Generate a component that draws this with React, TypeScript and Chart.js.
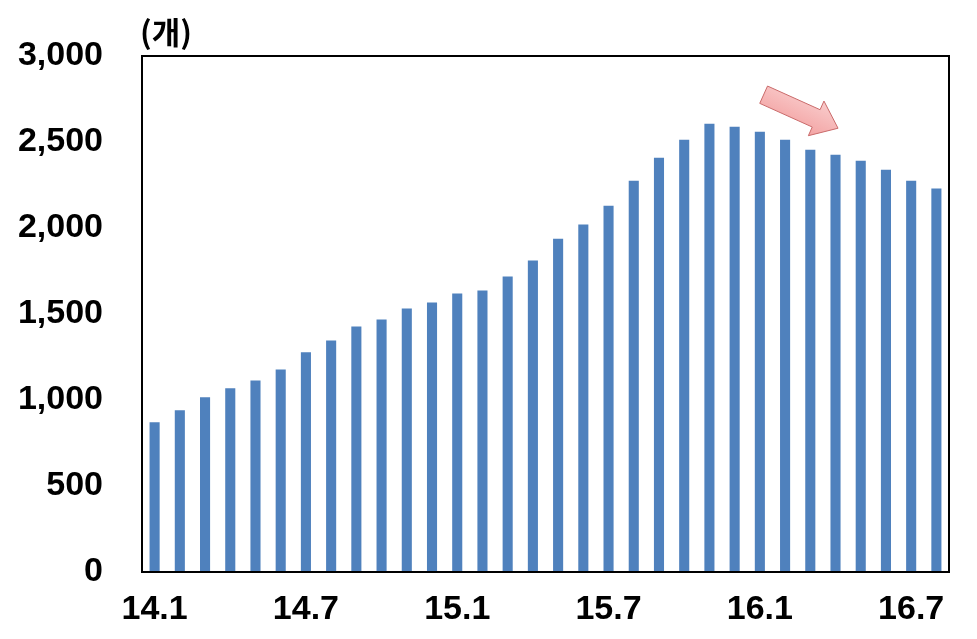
import React, { useEffect, useRef } from "react";
import { Chart, registerables } from "chart.js";

Chart.register(...registerables);

const CATEGORIES: string[] = [
  "14.1", "14.2", "14.3", "14.4", "14.5", "14.6", "14.7", "14.8", "14.9", "14.10", "14.11", "14.12",
  "15.1", "15.2", "15.3", "15.4", "15.5", "15.6", "15.7", "15.8", "15.9", "15.10", "15.11", "15.12",
  "16.1", "16.2", "16.3", "16.4", "16.5", "16.6", "16.7", "16.8",
];

const COUNTS: number[] = [
  870, 940, 1016, 1068, 1114, 1178, 1277, 1346, 1428, 1468, 1532, 1567,
  1619, 1637, 1718, 1811, 1938, 2020, 2130, 2275, 2409, 2513, 2606, 2589,
  2560, 2513, 2455, 2426, 2391, 2339, 2275, 2229,
];

const SHOWN_X_TICKS: string[] = ["14.1", "14.7", "15.1", "15.7", "16.1", "16.7"];

const UNIT_LABEL = "(개)";

// Decorative arrow anchored on the chart scales (category index, value)
const ARROW_FROM = { index: 24.15, value: 2775 };
const ARROW_TO = { index: 27.1, value: 2580 };

const FONT_FAMILY = "'Liberation Sans', Arial, 'DejaVu Sans', sans-serif";

const framePlugin = {
  id: "frameAndDecor",
  afterDatasetsDraw(chart: any) {
    const { ctx, chartArea, scales } = chart;
    const x = scales.x;
    const y = scales.y;
    ctx.save();
    // frame
    ctx.strokeStyle = "#000";
    ctx.lineWidth = 2;
    ctx.strokeRect(chartArea.left, chartArea.top, chartArea.right - chartArea.left, chartArea.bottom - chartArea.top);

    // unit label
    ctx.fillStyle = "#000";
    ctx.font = "bold 31px 'Noto Sans CJK KR', sans-serif";
    ctx.textAlign = "left";
    ctx.textBaseline = "middle";
    ctx.fillText(UNIT_LABEL, chartArea.left - 2, 32);

    // arrow
    const x0 = x.getPixelForValue(ARROW_FROM.index);
    const y0 = y.getPixelForValue(ARROW_FROM.value);
    const x1 = x.getPixelForValue(ARROW_TO.index);
    const y1 = y.getPixelForValue(ARROW_TO.value);
    const dx = x1 - x0;
    const dy = y1 - y0;
    const len = Math.hypot(dx, dy);
    const ux = dx / len;
    const uy = dy / len;
    const nx = -uy;
    const ny = ux;
    const bodyHalf = 9.5;
    const headHalf = 19;
    const headLen = 24;
    const bx = x1 - ux * headLen;
    const by = y1 - uy * headLen;
    const pts: [number, number][] = [
      [x0 + nx * bodyHalf, y0 + ny * bodyHalf],
      [bx + nx * bodyHalf, by + ny * bodyHalf],
      [bx + nx * headHalf, by + ny * headHalf],
      [x1, y1],
      [bx - nx * headHalf, by - ny * headHalf],
      [bx - nx * bodyHalf, by - ny * bodyHalf],
      [x0 - nx * bodyHalf, y0 - ny * bodyHalf],
    ];
    ctx.beginPath();
    ctx.moveTo(pts[0][0], pts[0][1]);
    for (let i = 1; i < pts.length; i++) ctx.lineTo(pts[i][0], pts[i][1]);
    ctx.closePath();
    const grad = ctx.createLinearGradient(x0 - nx * headHalf, y0 - ny * headHalf, x0 + nx * headHalf, y0 + ny * headHalf);
    grad.addColorStop(0, "#f9cccc");
    grad.addColorStop(1, "#f3a3a3");
    ctx.fillStyle = grad;
    ctx.fill();
    ctx.strokeStyle = "#c96a6a";
    ctx.lineWidth = 1;
    ctx.stroke();
    ctx.restore();
  },
};

export default function App() {
  const canvasRef = useRef<HTMLCanvasElement | null>(null);

  useEffect(() => {
    if (!canvasRef.current) return;
    const chart = new Chart(canvasRef.current, {
      type: "bar",
      data: {
        labels: CATEGORIES,
        datasets: [
          {
            data: COUNTS,
            backgroundColor: "#4f81bd",
            borderWidth: 0,
            barPercentage: 0.8,
            categoryPercentage: 0.5,
          },
        ],
      },
      options: {
        responsive: false,
        animation: false,
        layout: { padding: { top: 56, right: 28, bottom: 0, left: 0 } },
        plugins: {
          legend: { display: false },
          tooltip: { enabled: false },
          title: { display: false },
        },
        scales: {
          x: {
            grid: { display: false, drawTicks: false },
            border: { display: false },
            afterFit: (scale: any) => {
              scale.height = 67;
              scale.paddingLeft = 0;
              scale.paddingRight = 0;
            },
            ticks: {
              autoSkip: false,
              maxRotation: 0,
              minRotation: 0,
              padding: 17,
              color: "#000",
              font: { family: FONT_FAMILY, size: 34, weight: "bold" },
              callback: function (this: any, value: any) {
                const lbl = CATEGORIES[value as number];
                return SHOWN_X_TICKS.includes(lbl) ? lbl : "";
              },
            },
          },
          y: {
            min: 0,
            max: 3000,
            grid: { display: false, drawTicks: false },
            border: { display: false },
            afterFit: (scale: any) => {
              scale.width = 142;
              scale.paddingTop = 0;
              scale.paddingBottom = 0;
            },
            ticks: {
              stepSize: 500,
              padding: 39,
              color: "#000",
              font: { family: FONT_FAMILY, size: 34, weight: "bold" },
              callback: (v: any) => Number(v).toLocaleString("en-US"),
            },
          },
        },
      },
      plugins: [framePlugin],
    });
    return () => chart.destroy();
  }, []);

  return (
    <div style={{ position: "fixed", left: 0, top: 0, width: 977, height: 639, background: "#fff" }}>
      <canvas ref={canvasRef} width={977} height={639} />
    </div>
  );
}
